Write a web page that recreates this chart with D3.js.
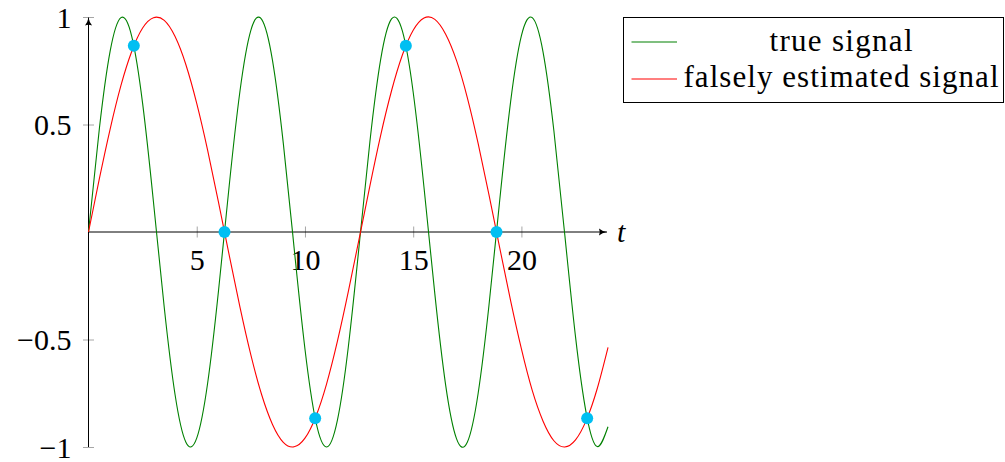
<!DOCTYPE html>
<html>
<head>
<meta charset="utf-8">
<script src="https://cdn.jsdelivr.net/npm/d3@7/dist/d3.min.js"></script>
<style>
  html, body { margin: 0; padding: 0; background: #fff; }
  svg { display: block; }
  svg text { font-family: "Liberation Serif", "Times New Roman", Tinos, "Noto Serif", "DejaVu Serif", serif !important; fill: #000; }
</style>
</head>
<body>
<svg id="chart" width="1005" height="462"></svg>
<script>
// Time grid of the plotted signals
const tGrid = [0, 0.5, 1, 1.5, 2, 2.5, 3, 3.5, 4, 4.5, 5, 5.5, 6, 6.5, 7, 7.5, 8, 8.5, 9, 9.5,
  10, 10.5, 11, 11.5, 12, 12.5, 13, 13.5, 14, 14.5, 15, 15.5, 16, 16.5, 17, 17.5, 18, 18.5, 19, 19.5,
  20, 20.5, 21, 21.5, 22, 22.5, 23, 23.5, 24];

// True signal values on the grid
const trueSignal = [0, 0.479, 0.841, 0.997, 0.909, 0.598, 0.141, -0.351, -0.757, -0.978,
  -0.959, -0.706, -0.279, 0.215, 0.657, 0.938, 0.989, 0.798, 0.412, -0.075,
  -0.544, -0.880, -1.000, -0.875, -0.537, -0.066, 0.420, 0.804, 0.991, 0.935,
  0.650, 0.207, -0.288, -0.712, -0.961, -0.978, -0.751, -0.342, 0.150, 0.605,
  0.913, 0.997, 0.837, 0.471, -0.009, -0.488, -0.846, -0.998, -0.906];

// Falsely estimated (aliased) signal values on the grid
const estimatedSignal = [0, 0.247, 0.479, 0.682, 0.841, 0.949, 0.997, 0.984, 0.909, 0.778,
  0.598, 0.382, 0.141, -0.108, -0.351, -0.572, -0.757, -0.895, -0.978, -0.999,
  -0.959, -0.859, -0.706, -0.508, -0.279, -0.033, 0.215, 0.451, 0.657, 0.823,
  0.938, 0.995, 0.989, 0.920, 0.798, 0.625, 0.412, 0.174, -0.075, -0.319,
  -0.544, -0.737, -0.880, -0.971, -1.000, -0.967, -0.875, -0.729, -0.537];

// Sampling instants and sampled values
const sampleT = [2.094, 6.283, 10.472, 14.661, 18.850, 23.038];
const sampleV = [0.866, 0, -0.866, 0.866, 0, -0.866];

// Axis ticks and legend labels
const xTicks = [5, 10, 15, 20];
const yTicks = [-1, -0.5, 0.5, 1];
const seriesNames = ["true signal", "falsely estimated signal"];
const seriesColors = ["#008000", "#ff0000"];

const serif = '"Liberation Serif", "Times New Roman", Tinos, "Noto Serif", "DejaVu Serif", serif';

const svg = d3.select("#chart").attr("font-family", serif);

const x = d3.scaleLinear().domain([0, 24]).range([88.5, 608]);
const y = d3.scaleLinear().domain([-1, 1]).range([447, 17]);

const axisColor = "#000";
const tickColor = "#a6a6a6";
const fontSize = 30;

// arrow head marker
const defs = svg.append("defs");
defs.append("marker")
  .attr("id", "arrow")
  .attr("viewBox", "0 0 10 10")
  .attr("refX", 10).attr("refY", 5)
  .attr("markerWidth", 8).attr("markerHeight", 8)
  .attr("markerUnits", "userSpaceOnUse")
  .attr("orient", "auto")
  .append("path")
  .attr("d", "M0,0.5 Q4,4 10,5 Q4,6 0,9.5 Q2,5 0,0.5Z")
  .attr("fill", axisColor);

// x axis through y = 0
const xAxisG = svg.append("g")
  .attr("transform", `translate(0,${y(0)})`)
  .call(d3.axisBottom(x).tickValues(xTicks).tickSize(5.5).tickFormat(d3.format("d")))
  .attr("font-family", serif);
xAxisG.select(".domain").remove();
xAxisG.selectAll(".tick line")
  .attr("y1", -5.5).attr("y2", 5.5)
  .attr("stroke", tickColor).attr("stroke-width", 1);
xAxisG.selectAll(".tick text")
  .attr("y", 38).attr("dy", null)
  .attr("font-size", fontSize)
  .attr("font-family", serif)
  .attr("fill", "#000");

// y axis through x = 0
const fmtY = v => (v < 0 ? "\u2212" : "") + d3.format("")(Math.abs(v));
const yAxisG = svg.append("g")
  .attr("transform", `translate(${x(0)},0)`)
  .call(d3.axisLeft(y).tickValues(yTicks).tickSize(5.5).tickFormat(fmtY))
  .attr("font-family", serif);
yAxisG.select(".domain").remove();
yAxisG.selectAll(".tick line")
  .attr("x1", -5.5).attr("x2", 5.5)
  .attr("stroke", tickColor).attr("stroke-width", 1);
yAxisG.selectAll(".tick text")
  .attr("x", -17).attr("dy", "0.34em")
  .attr("font-size", fontSize)
  .attr("font-family", serif)
  .attr("fill", "#000");

// axis lines with arrow heads
svg.append("line")
  .attr("x1", x(0)).attr("x2", x(24) - 1)
  .attr("y1", y(0)).attr("y2", y(0))
  .attr("stroke", axisColor).attr("stroke-width", 1)
  .attr("marker-end", "url(#arrow)");
svg.append("line")
  .attr("x1", x(0)).attr("x2", x(0))
  .attr("y1", y(-1)).attr("y2", y(1) + 0.5)
  .attr("stroke", axisColor).attr("stroke-width", 1)
  .attr("marker-end", "url(#arrow)");

svg.append("text")
  .attr("x", 617).attr("y", 242)
  .attr("font-size", fontSize)
  .attr("font-style", "italic")
  .text("t");

// signal curves
const line = d3.line()
  .x((d, i) => x(tGrid[i]))
  .y(d => y(d))
  .curve(d3.curveNatural);

[trueSignal, estimatedSignal].forEach((series, k) => {
  svg.append("path")
    .datum(series)
    .attr("d", line)
    .attr("fill", "none")
    .attr("stroke", seriesColors[k])
    .attr("stroke-width", 1.1);
});

// sample points
svg.append("g").selectAll("circle")
  .data(sampleT)
  .join("circle")
  .attr("cx", d => x(d))
  .attr("cy", (d, i) => y(sampleV[i]))
  .attr("r", 6)
  .attr("fill", "#00bff2");

// legend
const legend = svg.append("g");
legend.append("rect")
  .attr("x", 623.5).attr("y", 17.5)
  .attr("width", 380).attr("height", 85)
  .attr("fill", "#fff")
  .attr("stroke", "#000").attr("stroke-width", 1);

const legendRows = [50.5, 87];
const legendLineY = [42, 79];
const legendWidths = [143, 315];
seriesNames.forEach((name, k) => {
  legend.append("line")
    .attr("x1", 631.5).attr("x2", 677)
    .attr("y1", legendLineY[k]).attr("y2", legendLineY[k])
    .attr("stroke", seriesColors[k]).attr("stroke-width", 1.1);
  legend.append("text")
    .attr("x", 841).attr("y", legendRows[k])
    .attr("text-anchor", "middle")
    .attr("font-size", 31)
    .attr("textLength", legendWidths[k])
    .attr("lengthAdjust", "spacing")
    .text(name);
});
</script>
</body>
</html>
